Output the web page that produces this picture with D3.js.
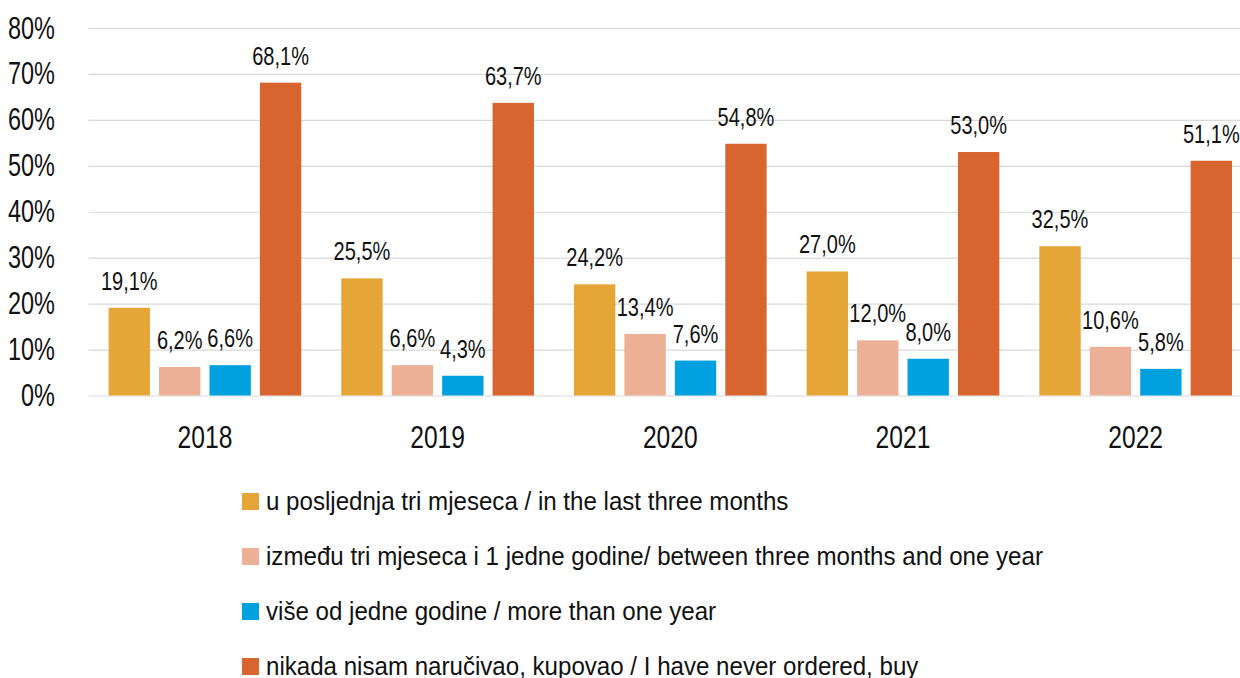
<!DOCTYPE html>
<html>
<head>
<meta charset="utf-8">
<script src="https://cdn.jsdelivr.net/npm/d3@7/dist/d3.min.js"></script>
<style>
  body { margin: 0; background: #fff; }
  svg { display: block; font-family: "Liberation Sans", Arial, sans-serif; }
  .grid line { stroke: #d9d9d9; stroke-width: 1.2; }
  .grid .domain { display: none; }
</style>
</head>
<body>
<div id="chart"></div>
<script>
/* global d3 */
var years = ["2018", "2019", "2020", "2021", "2022"];
var seriesNames = [
  "u posljednja tri mjeseca / in the last three months",
  "između tri mjeseca i 1 jedne godine/ between three months and one year",
  "više od jedne godine / more than one year",
  "nikada nisam naručivao, kupovao / I have never ordered, buy"
];
var lastThreeMonths = [19.1, 25.5, 24.2, 27.0, 32.5];
var threeMonthsToYear = [6.2, 6.6, 13.4, 12.0, 10.6];
var moreThanYear = [6.6, 4.3, 7.6, 8.0, 5.8];
var neverOrdered = [68.1, 63.7, 54.8, 53.0, 51.1];
var yTicks = [0, 10, 20, 30, 40, 50, 60, 70, 80];
var colors = ["#e6a637", "#ebb096", "#00a1de", "#d8642f"];

var allSeries = [lastThreeMonths, threeMonthsToYear, moreThanYear, neverOrdered];

var width = 1240,
  height = 678,
  margin = {top: 28, left: 88.6, plotRight: 1252, bottom: 395.5};

var svg = d3.select("#chart").append("svg")
  .attr("width", width)
  .attr("height", height);

// the source font is a condensed face; squeeze the labels to match
function squeeze(sel, k) {
  sel.each(function () {
    var w = this.getComputedTextLength();
    d3.select(this)
      .attr("textLength", w * k)
      .attr("lengthAdjust", "spacingAndGlyphs");
  });
}

var x0 = d3.scaleBand()
  .domain(years)
  .range([margin.left, margin.plotRight])
  .padding(0);

var x1 = d3.scaleBand()
  .domain(d3.range(seriesNames.length))
  .range([20, x0.bandwidth() - 20])
  .paddingInner(0.18)
  .paddingOuter(0);

var y = d3.scaleLinear()
  .domain([0, 80])
  .range([margin.bottom, margin.top]);

// gridlines
svg.append("g")
  .attr("class", "grid")
  .attr("transform", "translate(" + margin.left + ",0)")
  .call(d3.axisLeft(y).tickValues(yTicks)
    .tickSize(-(margin.plotRight - margin.left))
    .tickFormat(""));

// y labels
svg.append("g")
  .selectAll("text")
  .data(yTicks)
  .enter().append("text")
    .attr("x", 55)
    .attr("y", function (d) { return y(d) + 10.5; })
    .attr("text-anchor", "end")
    .attr("font-size", 30.5)
    .attr("fill", "#111")
    .text(function (d) { return d + "%"; })
    .call(squeeze, 0.77);

// year labels
svg.append("g")
  .selectAll("text")
  .data(years)
  .enter().append("text")
    .attr("x", function (d) { return x0(d) + x0.bandwidth() / 2; })
    .attr("y", 448)
    .attr("text-anchor", "middle")
    .attr("font-size", 32)
    .attr("fill", "#111")
    .text(function (d) { return d; })
    .call(squeeze, 0.77);

// bars
var groups = svg.append("g").selectAll("g")
  .data(years)
  .enter().append("g")
    .attr("transform", function (d) { return "translate(" + x0(d) + ",0)"; });

var cells = groups.selectAll("g")
  .data(function (d, i) {
    return allSeries.map(function (s, k) { return {k: k, v: s[i]}; });
  })
  .enter().append("g");

cells.append("rect")
  .attr("x", function (d) { return x1(d.k); })
  .attr("width", x1.bandwidth())
  .attr("y", function (d) { return y(d.v); })
  .attr("height", function (d) { return y(0) - y(d.v); })
  .attr("fill", function (d) { return colors[d.k]; });

cells.append("text")
  .attr("x", function (d) { return x1(d.k) + x1.bandwidth() / 2; })
  .attr("y", function (d) { return y(d.v) - 18; })
  .attr("text-anchor", "middle")
  .attr("font-size", 26)
  .attr("fill", "#111")
  .text(function (d) { return d.v.toFixed(1).replace(".", ",") + "%"; })
  .call(squeeze, 0.77);

// legend
var legend = svg.append("g").selectAll("g")
  .data(seriesNames)
  .enter().append("g")
    .attr("transform", function (d, i) { return "translate(242," + (510 + i * 55) + ")"; });

legend.append("rect")
  .attr("x", 0)
  .attr("y", -17)
  .attr("width", 17)
  .attr("height", 17)
  .attr("fill", function (d, i) { return colors[i]; });

legend.append("text")
  .attr("x", 24)
  .attr("y", 0)
  .attr("font-size", 25.5)
  .attr("fill", "#111")
  .text(function (d) { return d; })
  .call(squeeze, 0.945);
</script>
</body>
</html>
